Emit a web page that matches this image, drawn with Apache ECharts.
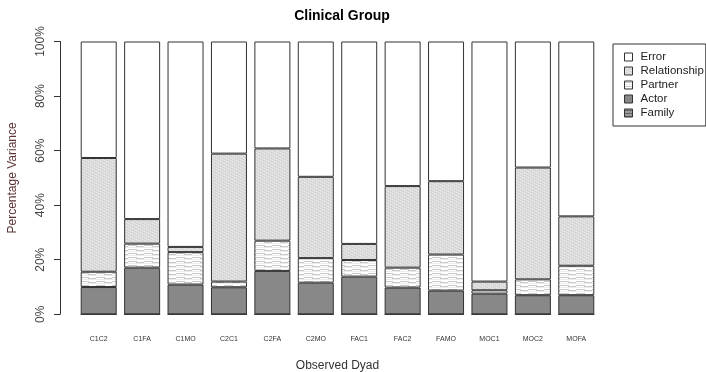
<!DOCTYPE html>
<html>
<head>
<meta charset="utf-8">
<script src="https://cdn.jsdelivr.net/npm/echarts@6/dist/echarts.min.js"></script>
<style>html,body{margin:0;padding:0;background:#fff}#c{width:706px;height:372px}</style>
</head>
<body>
<div id="c"></div>
<script>
const categories = ['C1C2','C1FA','C1MO','C2C1','C2FA','C2MO','FAC1','FAC2','FAMO','MOC1','MOC2','MOFA'];
const family = [0,0,0,0,0,0,0,0,0,0,0,0];
const actor = [10,17.1,10.9,9.9,15.9,11.6,13.8,9.8,8.7,7.6,7.0,7.0];
const partner = [5.6,8.8,11.9,2.1,11.1,9.0,6.1,7.3,13.2,1.2,5.8,10.8];
const relationship = [41.7,9.0,1.9,46.9,33.8,29.8,5.9,29.9,26.9,3.2,41.0,18.1];
const error = categories.map((c,i)=> +(100 - family[i]-actor[i]-partner[i]-relationship[i]).toFixed(1));
const yTicks = ['0%','20%','40%','60%','80%','100%'];

function pattern(w,h,bg,draw){
  const cv=document.createElement('canvas'); cv.width=w; cv.height=h;
  const g=cv.getContext('2d'); g.fillStyle=bg; g.fillRect(0,0,w,h); draw(g);
  return {image:cv, repeat:'repeat'};
}
const relPat = pattern(6,6,'#dcdcdc',g=>{
  g.fillStyle='#eaeaea';
  for(let y=0;y<6;y++){ g.fillRect((y*2)%6,y,1,1); }
  g.fillStyle='#cfcfcf';
  for(let y=0;y<6;y++){ g.fillRect((y*2+3)%6,y,1,1); }
});
const parPat = pattern(16,4,'#ffffff',g=>{
  g.fillStyle='#c8c8c8';
  g.fillRect(0,1,9,1); g.fillRect(8,2,8,1);
  g.fillStyle='#ececec';
  g.fillRect(0,3,16,1);
});
const famPat = pattern(6,3,'#999999',g=>{
  g.fillStyle='#666666'; g.fillRect(0,1,6,1);
});

const font = 'Liberation Sans, Arial, sans-serif';
const chart = echarts.init(document.getElementById('c'));
const common = {type:'bar', stack:'t', barWidth:36};
chart.setOption({
  animation:false,
  textStyle:{fontFamily:font},
  title:{text:'Clinical Group', left:337, textAlign:'center', top:4,
    textStyle:{fontSize:14, fontWeight:'bold', color:'#000', fontFamily:font}},
  legend:{
    orient:'vertical', left:613, top:44,
    data:['Error','Relationship','Partner','Actor','Family'],
    borderColor:'#333', borderWidth:1, padding:[6,2,6,11],
    icon:'rect', itemWidth:8, itemHeight:8, itemGap:0,
    itemStyle:{borderWidth:1, borderColor:'#333'},
    textStyle:{fontSize:11.5, color:'#222', lineHeight:14, padding:[0,0,0,3], fontFamily:font}
  },
  grid:{left:77, right:108, top:41.5, bottom:57.7, outerBoundsMode:'none', containLabel:false},
  xAxis:{type:'category', data:categories,
    axisLine:{show:false}, axisTick:{show:false},
    axisLabel:{fontSize:7, color:'#333', margin:21, interval:0, fontFamily:font},
    name:'Observed Dyad', nameLocation:'middle', nameGap:45,
    nameTextStyle:{fontSize:12, color:'#333', fontFamily:font}},
  yAxis:{type:'value', min:0, max:100, interval:20, offset:17,
    axisLine:{show:true, lineStyle:{color:'#333'}},
    axisTick:{show:true, length:6, lineStyle:{color:'#333'}},
    splitLine:{show:false},
    axisLabel:{rotate:90, fontSize:12, color:'#444', margin:13, fontFamily:font,
      formatter:(v)=>yTicks[Math.round(v/20)]},
    name:'Percentage Variance', nameLocation:'middle', nameGap:41,
    nameTextStyle:{fontSize:12, color:'#5c3333', fontFamily:font}},
  series:[
    Object.assign({}, common, {name:'Family', data:family, itemStyle:{color:famPat, borderColor:'#333', borderWidth:1}}),
    Object.assign({}, common, {name:'Actor', data:actor, itemStyle:{color:'#888888', borderColor:'#333', borderWidth:1}}),
    Object.assign({}, common, {name:'Partner', data:partner, itemStyle:{color:parPat, borderColor:'#333', borderWidth:1}}),
    Object.assign({}, common, {name:'Relationship', data:relationship, itemStyle:{color:relPat, borderColor:'#333', borderWidth:1}}),
    Object.assign({}, common, {name:'Error', data:error, itemStyle:{color:'#ffffff', borderColor:'#333', borderWidth:1}})
  ]
});
</script>
</body>
</html>
